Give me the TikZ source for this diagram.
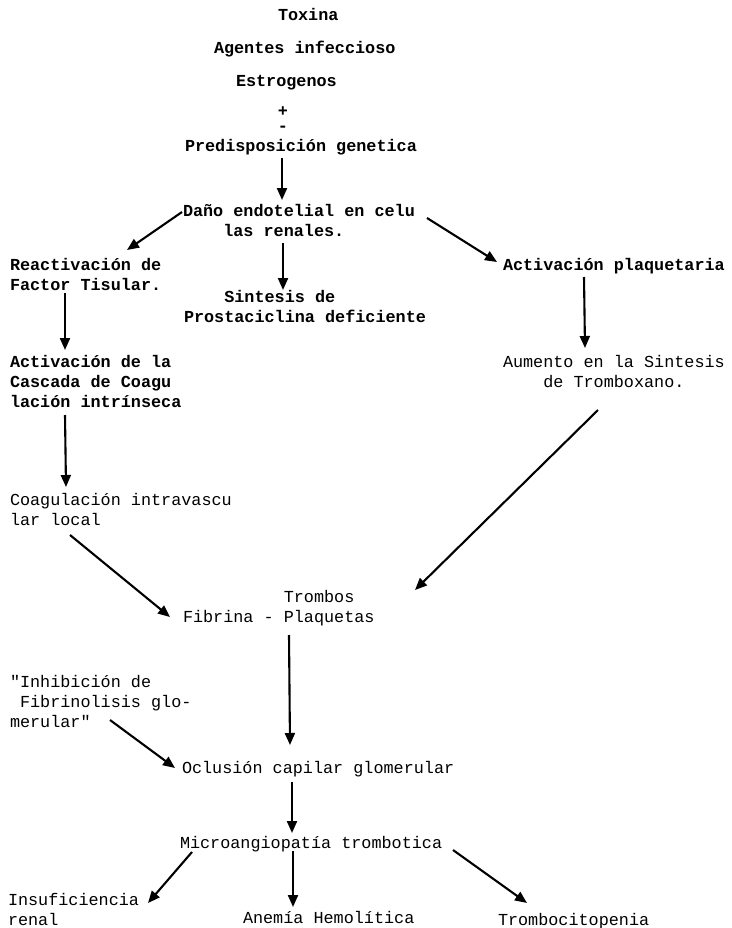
\documentclass[tikz,border=0pt]{standalone}
\usepackage{fontspec}
\setmonofont{Liberation Mono}
\usetikzlibrary{arrows.meta,calc}
\newcommand{\ind}[1]{\hspace*{#1\dimexpr 0.6em\relax}}
\newcommand{\blk}[2][l]{\begin{tabular}[t]{@{}#1@{}}#2\end{tabular}}
\begin{document}
\begin{tikzpicture}[x=1bp,y=-1bp,
  txt/.style={anchor=base west,inner sep=0pt,outer sep=0pt,
    font=\ttfamily\fontsize{16.8bp}{20bp}\selectfont},
  btxt/.style={txt,font=\ttfamily\bfseries\fontsize{16.8bp}{20bp}\selectfont},
  arr/.style={line width=2.1bp,-{Triangle[length=12bp,width=10bp]}}]
\useasboundingbox[fill=white] (0,0) rectangle (732,928);

\node[btxt] (tox) at (278,20) {Toxina};
\node[btxt] (age) at (214,53) {Agentes infeccioso};
\node[btxt] (est) at (236,86) {Estrogenos};
\node[btxt,anchor=base] (pm) at (283,116) {\blk[c]{+\\[-5bp]-}};
\node[btxt] (pred) at (185,151) {Predisposición genetica};
\node[btxt] (dano) at (183,216) {\blk{Daño endotelial en celu\\\ind{4}las renales.}};
\node[btxt] (react) at (10,270) {\blk{Reactivación de\\Factor Tisular.}};
\node[btxt] (sint) at (184,302) {\blk{\ind{4}Sintesis de\\Prostaciclina deficiente}};
\node[btxt] (actp) at (503,270) {Activación plaquetaria};
\node[txt] (aum) at (503,367) {\blk{Aumento en la Sintesis\\\ind{4}de Tromboxano.}};
\node[btxt] (actc) at (10,367) {\blk{Activación de la\\Cascada de Coagu\\lación intrínseca}};
\node[txt] (coag) at (10,505) {\blk{Coagulación intravascu\\lar local}};
\node[txt] (trom) at (183,602) {\blk{\ind{10}Trombos\\Fibrina - Plaquetas}};
\node[txt] (inh) at (10,687) {\blk{"Inhibición de\\\ind{1}Fibrinolisis glo-\\merular"}};
\node[txt] (ocl) at (182,773) {Oclusión capilar glomerular};
\node[txt] (micro) at (180,848) {Microangiopatía trombotica};
\node[txt] (insu) at (8,905) {\blk{Insuficiencia\\renal}};
\node[txt] (anem) at (243,923) {Anemía Hemolítica};
\node[txt] (tromb) at (498,925) {Trombocitopenia};

\draw[arr] ($(pred.base west)+(97,7)$) -- ($(dano.base west)+(99,-16)$);
\draw[arr] ($(dano.base west)+(-1,-4)$) -- ($(react.base west)+(117,-20)$);
\draw[arr] ($(dano.base west)+(100,27)$) -- ($(sint.base west)+(99,-12)$);
\draw[arr] ($(dano.base west)+(244,2)$) -- ($(actp.base west)+(-6,-8)$);
\draw[arr] ($(actp.base west)+(81,7)$) -- ($(aum.base west)+(82,-19)$);
\draw[arr] ($(react.base west)+(55,23)$) -- ($(actc.base west)+(55,-17)$);
\draw[arr] ($(actc.base west)+(55,48)$) -- ($(coag.base west)+(56,-18)$);
\draw[arr] ($(coag.base west)+(60,30)$) -- ($(trom.base west)+(-13,15)$);
\draw[arr] ($(aum.base west)+(95,43)$) -- ($(trom.base west)+(232,-12)$);
\draw[arr] ($(trom.base west)+(106,33)$) -- ($(ocl.base west)+(108,-28)$);
\draw[arr] ($(inh.base west)+(100,33)$) -- ($(ocl.base west)+(-7,-5)$);
\draw[arr] ($(ocl.base west)+(110,9)$) -- ($(micro.base west)+(112,-15)$);
\draw[arr] ($(micro.base west)+(12,4)$) -- ($(insu.base west)+(140,-2)$);
\draw[arr] ($(micro.base west)+(113,3)$) -- ($(anem.base west)+(50,-16)$);
\draw[arr] ($(micro.base west)+(273,2)$) -- ($(tromb.base west)+(29,-22)$);
\end{tikzpicture}
\end{document}
